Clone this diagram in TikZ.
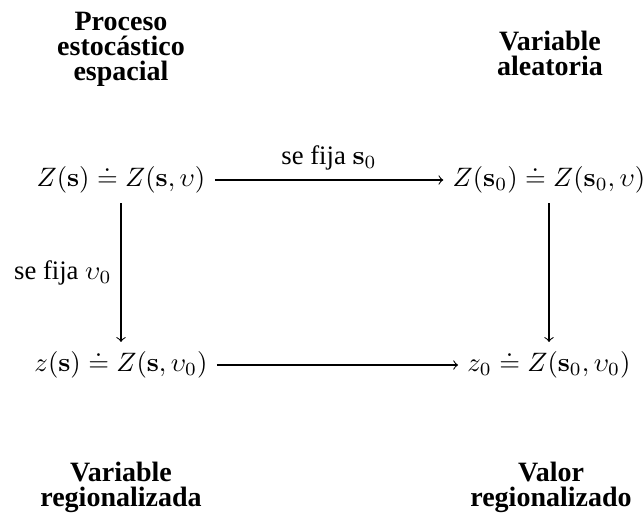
\documentclass[tikz,border=0pt]{standalone}
\usepackage{amsmath,amssymb}
\usepackage[no-math]{fontspec}
\setmainfont{Liberation Serif}
\usepackage{tikz}
\usetikzlibrary{arrows,positioning,calc}

\begin{document}
\begin{tikzpicture}[x=0.375pt,y=-0.375pt,
    etiq/.style={font=\bfseries\fontsize{10.5}{9.4}\selectfont, align=center},
    mapa/.style={->}]
    \useasboundingbox (0,0) rectangle (643,520);

    % Esquinas del diagrama
    \node (proc) at (121,180) {$Z(\mathbf{s}) \doteq Z(\mathbf{s},\upsilon)$};
    \node (vale) at (549,180) {$Z(\mathbf{s}_0) \doteq Z(\mathbf{s}_0,\upsilon)$};
    \node (vreg) at (121,365) {$z(\mathbf{s}) \doteq Z(\mathbf{s},\upsilon_0)$};
    \node (valr) at (549,365) {$z_0 \doteq Z(\mathbf{s}_0,\upsilon_0)$};

    % Flechas
    \draw[mapa] (proc) -- node[above] {se fija $\mathbf{s}_0$} (vale);
    \draw[mapa] (proc) -- node[left] {se fija $\upsilon_0$} (vreg);
    \draw[mapa] (vale) -- (valr);
    \draw[mapa] (vreg) -- (valr);

    % Etiquetas
    \node[etiq] (tproc) at (121,49) {Proceso\\estocástico\\espacial};
    \node[etiq] (tvale) at (550,53) {Variable\\aleatoria};
    \node[etiq] (tvreg) at (121,487) {Variable\\regionalizada};
    \node[etiq] (tvalr) at (551,487) {Valor\\regionalizado};
\end{tikzpicture}
\end{document}
